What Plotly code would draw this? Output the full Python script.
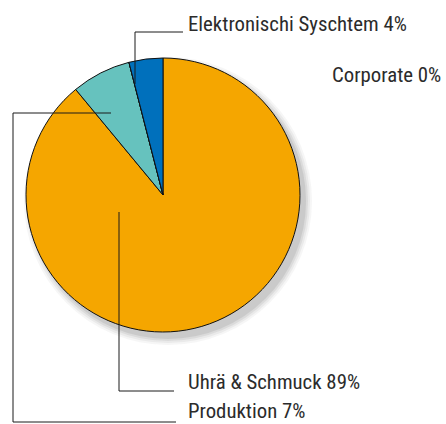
import plotly.graph_objects as go

# Segment shares (percent), clockwise from 12 o'clock
segments = ["Uhrä & Schmuck", "Produktion", "Corporate", "Elektronischi Syschtem"]
shares = [89, 7, 0, 4]
colors = ["#F5A600", "#66C2BE", "#9C9C9C", "#0070BC"]

W, H = 446, 424
CX, CY, R = 163, 195, 137  # pie centre and radius in pixels

FONT = "Roboto Condensed, Liberation Sans Narrow, DejaVu Sans Condensed, sans-serif"

fig = go.Figure()

# soft drop shadow behind the pie
shadow_layers = [(14, 0.05), (10, 0.07), (6, 0.09), (2, 0.12)]
for grow, alpha in shadow_layers:
    fig.add_shape(type="circle", xref="x", yref="y",
                  x0=CX + 5 - R - grow / 2, x1=CX + 5 + R + grow / 2,
                  y0=CY + 6 - R - grow / 2, y1=CY + 6 + R + grow / 2,
                  fillcolor=f"rgba(80,80,80,{alpha})", line_width=0, layer="below")

fig.add_trace(go.Pie(
    labels=segments, values=shares, sort=False, direction="clockwise",
    rotation=0, textinfo="none", hoverinfo="label+percent",
    marker=dict(colors=colors, line=dict(color="#111111", width=1)),
    domain=dict(x=[(CX - R) / W, (CX + R) / W], y=[1 - (CY + R) / H, 1 - (CY - R) / H]),
    showlegend=False,
))

# leader lines (pixel coordinates)
leaders = {
    "Elektronischi Syschtem": [(135, 84), (135, 32), (183, 32)],
    "Produktion": [(111, 113), (13, 113), (13, 422), (176, 422)],
    "Uhrä & Schmuck": [(119, 212), (119, 391), (174, 391)],
}
for pts in leaders.values():
    path = "M " + " L ".join(f"{x},{y}" for x, y in pts)
    fig.add_shape(type="path", xref="x", yref="y", path=path,
                  line=dict(color="#1a1a1a", width=1))

# label text positions: left x, anchor y, vertical anchor
label_pos = {
    "Elektronischi Syschtem": (187, 24, "middle"),
    "Corporate": (331, 75, "middle"),
    "Uhrä & Schmuck": (187, 382, "middle"),
    "Produktion": (187, 424, "bottom"),
}
for name, share in zip(segments, shares):
    x, y, ya = label_pos[name]
    fig.add_annotation(x=x, y=y, xref="x", yref="y", text=f"{name} {share}%",
                       showarrow=False, xanchor="left", yanchor=ya, borderpad=0,
                       font=dict(family=FONT, size=20.8, color="#2b2b2b"))

fig.update_layout(
    width=W, height=H, margin=dict(l=0, r=0, t=0, b=0),
    paper_bgcolor="white", plot_bgcolor="white",
    xaxis=dict(range=[0, W], visible=False, fixedrange=True),
    yaxis=dict(range=[H, 0], visible=False, fixedrange=True),
)

fig.write_html("out.html")
